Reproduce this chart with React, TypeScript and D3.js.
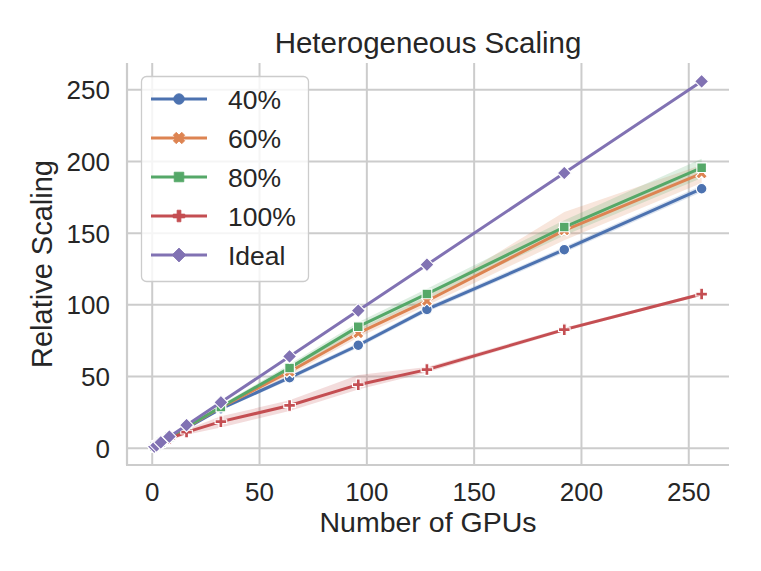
import React from "react";
import * as d3 from "d3";

const gpus = [1, 2, 4, 8, 16, 32, 64, 96, 128, 192, 256];

const s40 = [1, 2, 3.8, 7.5, 14, 27.5, 49.2, 71.8, 96.8, 138.5, 181];
const s40lo = [1, 1.9, 3.6, 7.1, 13.3, 26.3, 47.6, 70, 95, 136.5, 178.8];
const s40hi = [1, 2.1, 4, 7.9, 14.7, 28.7, 50.8, 73.6, 98.6, 140.5, 183.2];

const s60 = [1, 2, 3.9, 7.7, 14.5, 28.5, 53.3, 80.2, 102.7, 152, 191.7];
const s60lo = [1, 1.9, 3.7, 7.2, 13.6, 26.8, 50.8, 77.2, 99.5, 145, 185];
const s60hi = [1, 2.1, 4.1, 8.2, 15.4, 30.2, 55.8, 83.2, 105.9, 164.8, 197.5];

const s80 = [1, 2, 3.9, 7.8, 14.8, 28.7, 56, 84.8, 107.6, 154.3, 195.7];
const s80lo = [1, 1.9, 3.7, 7.4, 14, 27.3, 53.5, 81.8, 104, 148.4, 188.5];
const s80hi = [1, 2.1, 4.1, 8.2, 15.6, 30.1, 58.5, 87.8, 111.2, 159, 202];

const s100 = [1, 2, 3.6, 6.6, 11.2, 18.5, 29.8, 44.3, 54.8, 82.7, 107.5];
const s100lo = [1, 1.8, 3.1, 5.6, 9.3, 14.5, 26, 41, 52.8, 81.5, 106.5];
const s100hi = [1, 2.2, 4.1, 7.6, 13.1, 22.2, 33.4, 51, 56.6, 84, 108.6];

const ideal = [1, 2, 4, 8, 16, 32, 64, 96, 128, 192, 256];

const seriesNames = ["40%", "60%", "80%", "100%", "Ideal"];
const seriesColors = ["#4C72B0", "#DD8452", "#55A868", "#C44E52", "#8172B3"];
const seriesMarkers = ["circle", "x", "square", "plus", "diamond"];

const xTicks = [0, 50, 100, 150, 200, 250];
const yTicks = [0, 50, 100, 150, 200, 250];

const W = 761;
const H = 571;
const FONT = "'Liberation Sans', Arial, Helvetica, sans-serif";
const TXT = "#262626";
const GRID = "#cccccc";

function crossPoly(a: number, t: number, rot: number): string {
  const pts: [number, number][] = [
    [t, a], [t, t], [a, t], [a, -t], [t, -t], [t, -a],
    [-t, -a], [-t, -t], [-a, -t], [-a, t], [-t, t], [-t, a],
  ];
  const c = Math.cos(rot), s = Math.sin(rot);
  return "M" + pts.map(([x, y]) => `${(x * c - y * s).toFixed(2)},${(x * s + y * c).toFixed(2)}`).join("L") + "Z";
}

function markerPath(kind: string): string {
  switch (kind) {
    case "circle":
      return d3.symbol(d3.symbolCircle, Math.PI * 5.3 * 5.3)() as string;
    case "x":
      return crossPoly(6, 2.1, Math.PI / 4);
    case "square":
      return "M-4.8,-4.8L4.8,-4.8L4.8,4.8L-4.8,4.8Z";
    case "plus":
      return crossPoly(5.8, 1.9, 0);
    case "diamond":
      return "M0,-7L7,0L0,7L-7,0Z";
  }
  return "";
}

export default function App() {
  React.useEffect(() => {
    document.body.style.margin = "0";
  }, []);

  const x = d3.scaleLinear().domain([-11.75, 268.75]).range([127, 729]);
  const y = d3.scaleLinear().domain([-11.75, 268.75]).range([465, 63]);

  const values = [s40, s60, s80, s100, ideal];
  const lows = [s40lo, s60lo, s80lo, s100lo, null];
  const highs = [s40hi, s60hi, s80hi, s100hi, null];

  const line = d3
    .line<number>()
    .x((_, i) => x(gpus[i]))
    .y((d) => y(d));

  const area = (lo: number[], hi: number[]) =>
    d3
      .area<number>()
      .x((_, i) => x(gpus[i]))
      .y0((_, i) => y(lo[i]))
      .y1((_, i) => y(hi[i]))(gpus) as string;

  const legendX = 141.5;
  const legendY = 76.5;
  const legendW = 167;
  const legendH = 205;
  const rowY = [99, 138, 177, 216, 255];

  return (
    <svg width={W} height={H} viewBox={`0 0 ${W} ${H}`} style={{ display: "block", background: "#fff" }}>
      <rect x={0} y={0} width={W} height={H} fill="#fff" />
      {/* grid */}
      {xTicks.map((t) => (
        <line key={"gx" + t} x1={x(t)} x2={x(t)} y1={63} y2={465} stroke={GRID} strokeWidth={2} />
      ))}
      {yTicks.map((t) => (
        <line key={"gy" + t} x1={127} x2={729} y1={y(t)} y2={y(t)} stroke={GRID} strokeWidth={2} />
      ))}
      {/* spines */}
      <line x1={127} x2={127} y1={63} y2={465} stroke={GRID} strokeWidth={2.2} />
      <line x1={126} x2={729} y1={465} y2={465} stroke={GRID} strokeWidth={2.2} />

      {/* bands */}
      {values.map((v, si) =>
        lows[si] ? (
          <path key={"band" + si} d={area(lows[si] as number[], highs[si] as number[])} fill={seriesColors[si]} fillOpacity={0.2} stroke="none" />
        ) : null
      )}

      {/* lines + markers */}
      {values.map((v, si) => (
        <g key={"s" + si}>
          <path d={line(v) as string} fill="none" stroke={seriesColors[si]} strokeWidth={3} strokeLinejoin="round" strokeLinecap="square" />
          {v.map((d, i) => (
            <path
              key={i}
              d={markerPath(seriesMarkers[si])}
              transform={`translate(${x(gpus[i])},${y(d)})`}
              fill={seriesColors[si]}
              stroke="#fff"
              strokeWidth={1.1}
            />
          ))}
        </g>
      ))}

      {/* tick labels */}
      {xTicks.map((t) => (
        <text key={"tx" + t} x={x(t)} y={501} textAnchor="middle" fontFamily={FONT} fontSize={26} fill={TXT}>
          {t}
        </text>
      ))}
      {yTicks.map((t) => (
        <text key={"ty" + t} x={110} y={y(t) + 9.5} textAnchor="end" fontFamily={FONT} fontSize={26} fill={TXT}>
          {t}
        </text>
      ))}

      {/* axis labels */}
      <text x={428} y={532} textAnchor="middle" fontFamily={FONT} fontSize={28.5} fill={TXT}>
        Number of GPUs
      </text>
      <text transform="translate(52,264) rotate(-90)" textAnchor="middle" fontFamily={FONT} fontSize={29} fill={TXT}>
        Relative Scaling
      </text>
      <text x={428} y={53} textAnchor="middle" fontFamily={FONT} fontSize={29.5} fill={TXT}>
        Heterogeneous Scaling
      </text>

      {/* legend */}
      <rect x={legendX} y={legendY} width={legendW} height={legendH} rx={5} ry={5} fill="#fff" fillOpacity={0.8} stroke={GRID} strokeWidth={1.3} />
      {seriesNames.map((n, si) => (
        <g key={"lg" + si}>
          <line x1={151} x2={207} y1={rowY[si]} y2={rowY[si]} stroke={seriesColors[si]} strokeWidth={3} />
          <path d={markerPath(seriesMarkers[si])} transform={`translate(179,${rowY[si]})`} fill={seriesColors[si]} stroke={seriesColors[si]} strokeWidth={0.8} />
          <text x={228} y={rowY[si] + 9.5} fontFamily={FONT} fontSize={26.5} fill={TXT}>
            {n}
          </text>
        </g>
      ))}
    </svg>
  );
}
